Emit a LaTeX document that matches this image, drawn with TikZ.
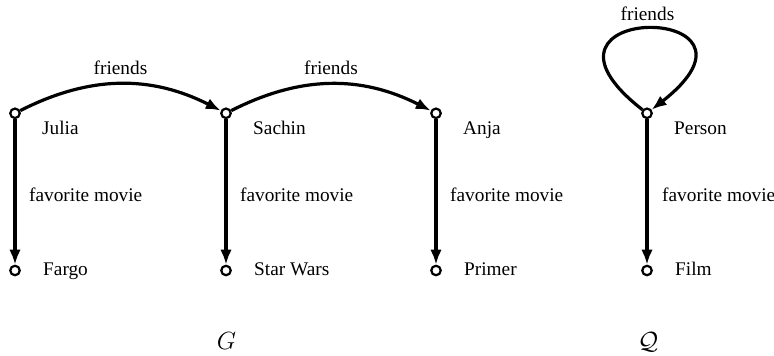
\documentclass[tikz,border=0pt]{standalone}
\usepackage{fontspec}
\setmainfont{Liberation Serif}
\newfontfamily\lblfont{Liberation Serif}
\usetikzlibrary{arrows.meta}
\begin{document}
\begin{tikzpicture}[x=1pt,y=1pt,
  vtx/.style={circle,draw,fill=white,line width=2.2pt,minimum size=9.5pt,inner sep=0pt},
  conn/.style={line width=3.2pt,-{Latex[length=15pt,width=11.5pt]}},
  lbl/.style={font=\lblfont\fontsize{19.3}{22}\selectfont,inner sep=0pt,anchor=base west},
  elbl/.style={font=\lblfont\fontsize{19.3}{22}\selectfont,inner sep=0pt,anchor=base},
  glbl/.style={font=\fontsize{25}{28}\selectfont,inner sep=0pt,anchor=base}]
\useasboundingbox (0,0) rectangle (774,356);
% vertices
\node[vtx] (julia)    at (15,242.7) {};
\node[vtx] (sachin)   at (226,242.7) {};
\node[vtx] (anja)     at (436,242.7) {};
\node[vtx] (person)   at (647,242.7) {};
\node[vtx] (fargo)    at (15,85.5) {};
\node[vtx] (starwars) at (226,85.5) {};
\node[vtx] (primer)   at (436,85.5) {};
\node[vtx] (film)     at (647,85.5) {};
% connectors
\draw[conn] (julia) to[bend left=27] (sachin);
\draw[conn] (sachin) to[bend left=27] (anja);
\draw[conn] (person) to[out=142,in=38,distance=176pt] (person);
\draw[conn] (julia) -- (fargo);
\draw[conn] (sachin) -- (starwars);
\draw[conn] (anja) -- (primer);
\draw[conn] (person) -- (film);
% vertex labels
\node[lbl] (tjulia)  at (42,221.7) {Julia};
\node[lbl] (tsachin) at (253,221.7) {Sachin};
\node[lbl] (tanja)   at (463,221.7) {Anja};
\node[lbl] (tperson) at (674,221.7) {Person};
\node[lbl] (tfargo)  at (43,80.3) {Fargo};
\node[lbl] (tstar)   at (254,80.3) {Star Wars};
\node[lbl] (tprimer) at (464,80.3) {Primer};
\node[lbl] (tfilm)   at (675,80.3) {Film};
% edge labels
\node[elbl] (f1) at (120.5,281) {friends};
\node[elbl] (f2) at (331,281) {friends};
\node[elbl] (f3) at (647.5,335.3) {friends};
\node[lbl] (m1) at (29,154.3) {favorite movie};
\node[lbl] (m2) at (240,154.3) {favorite movie};
\node[lbl] (m3) at (450,154.3) {favorite movie};
\node[lbl] (m4) at (662,154.3) {favorite movie};
% graph names
\node[glbl] (gname) at (226.5,6) {$G$};
\node[glbl] (qname) at (648,6) {$\mathcal{Q}$};
\end{tikzpicture}
\end{document}
